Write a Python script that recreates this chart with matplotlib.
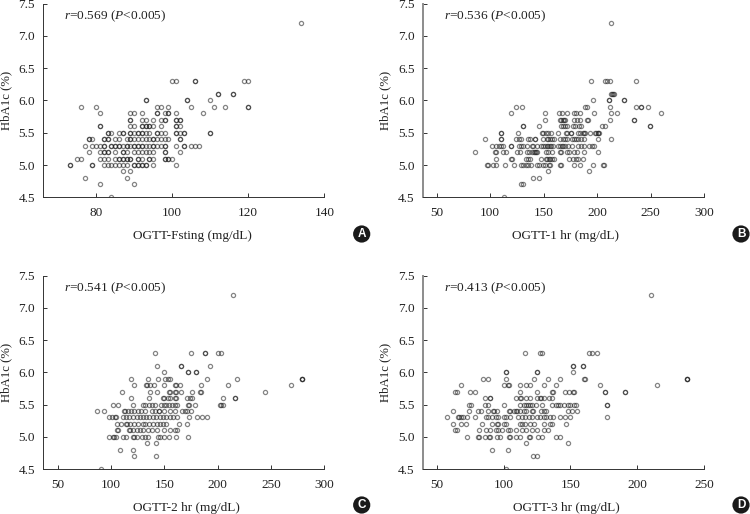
import matplotlib
matplotlib.use("Agg")
import matplotlib.pyplot as plt

plt.rcParams['font.family'] = ['Liberation Serif', 'DejaVu Serif']
plt.rcParams['mathtext.fontset'] = 'custom'
plt.rcParams['mathtext.rm'] = 'Liberation Serif'
plt.rcParams['mathtext.it'] = 'Liberation Serif:italic'

# HbA1c rows, the x values below are listed row by row in this order
hba1c = [7.2, 6.3, 6.1, 6.0, 5.9, 5.8, 5.7, 5.6, 5.5, 5.4, 5.3, 5.2, 5.1, 5.0, 4.9, 4.8, 4.7, 4.5]

fasting = [
    [134],
    [100, 101, 106, 106, 119, 120],
    [112, 112, 116, 116],
    [93, 93, 104, 104, 110],
    [76, 80, 96, 97, 99, 105, 111, 114, 120, 120],
    [81, 89, 90, 92, 96, 96, 98, 99, 99, 101, 108],
    [89, 89, 92, 93, 95, 97, 98, 98, 101, 101, 102, 102],
    [81, 81, 89, 90, 92, 92, 93, 93, 94, 94, 95, 97, 101, 101, 102],
    [83, 83, 84, 86, 87, 87, 89, 89, 90, 91, 91, 92, 92, 93, 94, 96, 96, 97, 98, 101, 101, 102, 103, 103, 110, 110],
    [78, 78, 79, 82, 82, 83, 83, 85, 86, 88, 89, 89, 90, 91, 92, 93, 94, 95, 95, 96, 97, 98, 99, 102, 102],
    [77, 79, 80, 81, 82, 82, 84, 84, 85, 85, 86, 86, 87, 88, 88, 89, 90, 90, 91, 91, 92, 92, 93, 94, 95, 95, 96, 97, 98, 98, 101, 103, 103, 105, 106, 107],
    [78, 81, 82, 82, 83, 83, 85, 87, 87, 88, 90, 91, 92, 93, 94, 95, 98, 98, 102],
    [75, 76, 81, 82, 83, 85, 86, 86, 87, 87, 88, 88, 89, 89, 91, 91, 92, 94, 94, 95, 98, 98, 99, 99, 100],
    [73, 73, 79, 79, 82, 83, 84, 85, 86, 87, 88, 90, 90, 91, 91, 92, 92, 93, 93, 95, 101],
    [87, 89],
    [77, 88],
    [81, 90],
    [84],
]

one_hr = [
    [213],
    [194, 207, 209, 212, 236],
    [213, 214, 215, 216],
    [196, 211, 211, 225, 225],
    [124, 130, 189, 190, 212, 236, 241, 241, 247],
    [119, 151, 164, 167, 172, 178, 180, 184, 197, 213, 218, 260],
    [151, 165, 166, 168, 169, 170, 178, 181, 184, 190, 191, 212, 234, 234],
    [131, 131, 146, 166, 168, 170, 172, 177, 179, 183, 185, 204, 207, 249, 249],
    [110, 110, 126, 148, 149, 152, 154, 157, 163, 171, 172, 175, 175, 182, 184, 187, 188, 189, 193, 198, 199, 201, 201, 202],
    [95, 110, 110, 124, 127, 129, 135, 137, 142, 142, 149, 153, 154, 156, 158, 160, 165, 168, 170, 172, 176, 178, 180, 182, 185, 188, 201, 213],
    [102, 105, 108, 110, 112, 119, 119, 127, 129, 131, 134, 139, 140, 144, 147, 149, 151, 153, 154, 156, 157, 159, 163, 165, 167, 168, 170, 173, 176, 182, 185, 188, 192, 195, 197],
    [86, 104, 105, 112, 115, 125, 128, 134, 136, 139, 141, 142, 143, 144, 152, 154, 158, 165, 166, 172, 174, 178, 181, 188, 201],
    [105, 119, 120, 133, 135, 137, 147, 152, 153, 155, 156, 158, 160, 174, 177, 180, 182, 187],
    [97, 98, 103, 105, 114, 122, 129, 131, 133, 135, 138, 144, 146, 149, 151, 155, 156, 165, 166, 178, 184, 196, 205, 206],
    [154, 192],
    [140, 146],
    [129, 131],
    [113],
]

two_hr = [
    [214],
    [141, 175, 188, 188, 200, 203],
    [143, 166, 166, 193],
    [150, 172, 172, 180, 180],
    [119, 135, 144, 151, 153, 155, 190, 218, 279, 279, 279],
    [122, 133, 134, 137, 140, 150, 160, 161, 165, 184, 210, 269],
    [110, 137, 143, 154, 155, 160, 161, 166, 176, 183, 184, 244],
    [119, 136, 149, 150, 153, 155, 160, 161, 171, 174, 176, 205, 216, 216],
    [102, 107, 121, 130, 132, 136, 138, 141, 147, 150, 152, 154, 157, 160, 162, 172, 173, 179, 202, 203, 205],
    [87, 93, 112, 113, 116, 119, 122, 125, 128, 132, 138, 141, 145, 145, 150, 155, 160, 167, 169, 171, 175],
    [98, 101, 104, 105, 111, 114, 117, 121, 124, 127, 130, 133, 136, 139, 142, 146, 149, 152, 155, 158, 162, 173, 181, 185, 190],
    [106, 109, 114, 115, 118, 122, 125, 130, 132, 136, 139, 143, 146, 149, 152, 164, 171],
    [106, 107, 117, 118, 121, 124, 127, 130, 135, 138, 143, 150, 155, 160, 162],
    [98, 102, 103, 105, 111, 114, 121, 122, 124, 129, 132, 135, 144, 146, 150, 154, 161, 172],
    [134, 142],
    [108, 121],
    [122, 142],
    [91],
]

three_hr = [
    [210],
    [116, 127, 129, 164, 166, 170],
    [152, 152, 159, 159],
    [102, 102, 125, 125, 152],
    [85, 88, 102, 123, 133, 142, 160, 161, 237, 237, 237],
    [68, 100, 103, 104, 112, 117, 120, 130, 139, 172, 215],
    [64, 65, 75, 79, 112, 125, 136, 137, 146, 149, 152, 153, 176, 176, 191, 191],
    [86, 90, 90, 109, 112, 113, 117, 120, 125, 127, 128, 130, 134, 136],
    [74, 76, 86, 88, 100, 112, 115, 117, 118, 120, 121, 124, 129, 136, 139, 141, 142, 145, 148, 150, 153, 154, 177, 177],
    [62, 74, 81, 83, 88, 92, 93, 95, 104, 105, 108, 109, 110, 112, 115, 117, 121, 122, 128, 130, 132, 148, 151, 155],
    [58, 66, 67, 68, 70, 73, 79, 87, 88, 91, 94, 96, 100, 102, 105, 111, 114, 116, 119, 121, 125, 127, 130, 132, 135, 137, 142, 146, 150, 177],
    [62, 68, 72, 84, 91, 95, 96, 100, 102, 112, 114, 116, 120, 123, 130, 135, 136, 147],
    [64, 65, 82, 87, 90, 94, 96, 99, 103, 105, 109, 114, 117, 121, 125, 130, 133],
    [73, 81, 82, 86, 89, 90, 95, 97, 104, 105, 109, 112, 119, 120, 126, 129, 139, 142],
    [117, 148],
    [91, 103],
    [122, 125],
    [102],
]

y_ticks = [4.5, 5.0, 5.5, 6.0, 6.5, 7.0, 7.5]

W, H = 750, 514
fig = plt.figure(figsize=(W / 100, H / 100), dpi=100)


def px_axes(left, top, right, bottom):
    return fig.add_axes([left / W, 1 - bottom / H, (right - left) / W, (bottom - top) / H])


def draw_panel(rect, xlim, xticks, rows, note, xlabel, letter, note_xy, xlabel_xy, ylabel_xy, badge_xy, thick_left):
    ax = px_axes(*rect)
    for y, xs in zip(hba1c, rows):
        ax.plot(xs, [y] * len(xs), linestyle='none', marker='o', ms=3.0, mfc='none',
                mec='#202020', mew=0.9, alpha=0.55)
    ax.set_xlim(xlim)
    ax.set_ylim(4.5, 7.5)
    ax.set_xticks(xticks)
    ax.set_yticks(y_ticks)
    ax.set_yticklabels(['%.1f' % v for v in y_ticks])
    ax.spines['top'].set_visible(False)
    ax.spines['right'].set_visible(False)
    ax.spines['bottom'].set_linewidth(0.7)
    ax.spines['bottom'].set_color('#333333')
    if thick_left:
        ax.spines['left'].set_linewidth(1.4)
        ax.spines['left'].set_color('#8c8c8c')
    else:
        ax.spines['left'].set_linewidth(0.7)
        ax.spines['left'].set_color('#333333')
    ax.tick_params(axis='y', direction='in', length=3, width=0.7, pad=6, labelsize=9.5, labelcolor='#222222', color='#333333')
    ax.tick_params(axis='x', direction='in', length=3, width=0.7, pad=7, labelsize=9.5, labelcolor='#222222', color='#333333')

    over.text(note_xy[0], note_xy[1], note, fontsize=9.6, ha='left', va='center', color='#222222')
    over.text(xlabel_xy[0], xlabel_xy[1], xlabel, fontsize=9.5, ha='center', va='center', color='#222222')
    over.text(ylabel_xy[0], ylabel_xy[1], 'HbA1c (%)', fontsize=9.2, ha='center', va='center', rotation=90, color='#222222')
    over.add_patch(plt.Circle(badge_xy, 8.6, color='#1a1a1a', lw=0))
    over.text(badge_xy[0], badge_xy[1], letter, fontsize=8.5, fontweight='bold', family=['Liberation Sans', 'DejaVu Sans'],
              color='white', ha='center', va='center')


# overlay in pixel coords for the labels and badges
over = fig.add_axes([0, 0, 1, 1], zorder=5)
over.set_xlim(0, W)
over.set_ylim(H, 0)
over.axis('off')

draw_panel((43.3, 3.5, 324.3, 197.3), (66.1, 140), [80, 100, 120, 140], fasting,
           r'$\mathit{r}$=0.569 ($\mathit{P}$<0.005)', 'OGTT-Fsting (mg/dL)', 'A',
           (64, 16.5), (192.5, 236), (6.5, 100), (361.7, 234), False)
draw_panel((423, 3.5, 704.3, 197.3), (37.2, 300), [50, 100, 150, 200, 250, 300], one_hr,
           r'$\mathit{r}$=0.536 ($\mathit{P}$<0.005)', 'OGTT-1 hr (mg/dL)', 'B',
           (444, 16.5), (566, 236), (385.7, 100), (741, 234), True)
draw_panel((43.3, 275.7, 324.3, 469), (36.5, 300), [50, 100, 150, 200, 250, 300], two_hr,
           r'$\mathit{r}$=0.541 ($\mathit{P}$<0.005)', 'OGTT-2 hr (mg/dL)', 'C',
           (64, 288.5), (186.7, 507.5), (6.5, 372), (361.7, 505), False)
draw_panel((423, 275.7, 704.3, 469), (39.8, 250), [50, 100, 150, 200, 250], three_hr,
           r'$\mathit{r}$=0.413 ($\mathit{P}$<0.005)', 'OGTT-3 hr (mg/dL)', 'D',
           (444, 288.5), (566, 507.5), (385.7, 372), (741, 505), True)

plt.savefig("out.png", dpi=100)
